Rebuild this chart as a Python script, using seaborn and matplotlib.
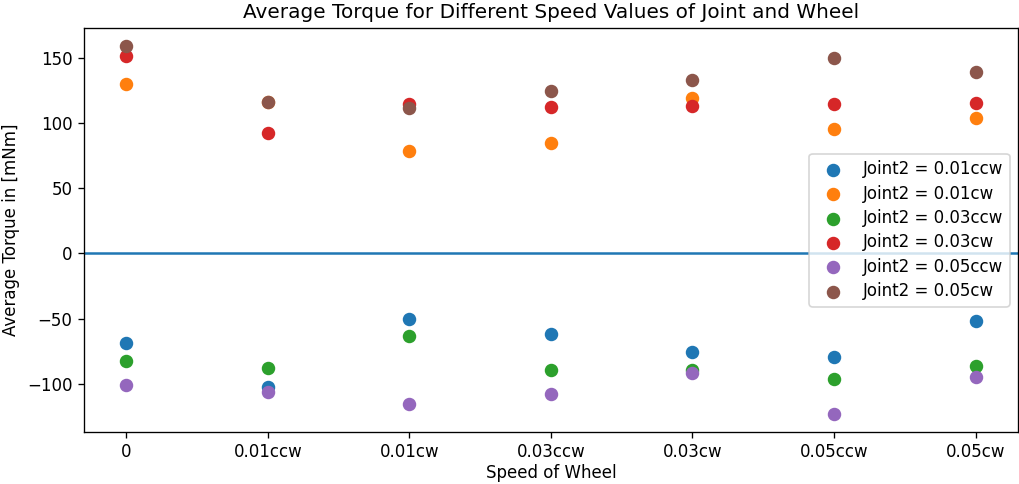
import matplotlib
matplotlib.use("Agg")
import matplotlib.pyplot as plt
import seaborn as sns
import pandas as pd

wheel_speeds = ["0", "0.01ccw", "0.01cw", "0.03ccw", "0.03cw", "0.05ccw", "0.05cw"]
series_names = ["Joint2 = 0.01ccw", "Joint2 = 0.01cw", "Joint2 = 0.03ccw",
                "Joint2 = 0.03cw", "Joint2 = 0.05ccw", "Joint2 = 0.05cw"]
j001ccw = [-68.9, -102.6, -50.3, -61.8, -75.6, -79.2, -52.1]
j001cw = [130.2, 116.0, 78.6, 85.0, 118.9, 95.2, 104.1]
j003ccw = [-82.5, -87.6, -63.1, -89.1, -89.4, -96.2, -86.5]
j003cw = [151.6, 92.1, 114.9, 112.3, 113.0, 114.3, 115.3]
j005ccw = [-101.1, -106.4, -115.6, -107.5, -91.7, -123.0, -94.9]
j005cw = [158.7, 116.1, 111.8, 124.5, 132.9, 149.8, 139.1]

all_values = [j001ccw, j001cw, j003ccw, j003cw, j005ccw, j005cw]
rows = []
for name, vals in zip(series_names, all_values):
    for sp, v in zip(wheel_speeds, vals):
        rows.append({"Speed": sp, "Torque": v, "Series": name})
df = pd.DataFrame(rows)

DPI = 120
fig, ax = plt.subplots(figsize=(1019 / DPI, 484 / DPI), dpi=DPI)
fig.subplots_adjust(left=0.0824, right=0.999, top=0.942, bottom=0.107)

palette = sns.color_palette("tab10", 6)
for i, name in enumerate(series_names):
    sub = df[df["Series"] == name]
    ax.scatter(sub["Speed"], sub["Torque"], s=50, color=palette[i], label=name, zorder=3)

ax.axhline(0, color=sns.color_palette("tab10")[0], linewidth=1.5, zorder=2)
ax.set_title("Average Torque for Different Speed Values of Joint and Wheel", fontsize=12)
ax.set_xlabel("Speed of Wheel", fontsize=10, labelpad=1.5)
ax.set_ylabel("Average Torque in [mNm]", fontsize=10)
ax.tick_params(labelsize=10)
ax.tick_params(axis="x", pad=3)
ax.legend(loc="center right", fontsize=10, labelspacing=0.38)
fig.savefig("out.png", dpi=DPI)
